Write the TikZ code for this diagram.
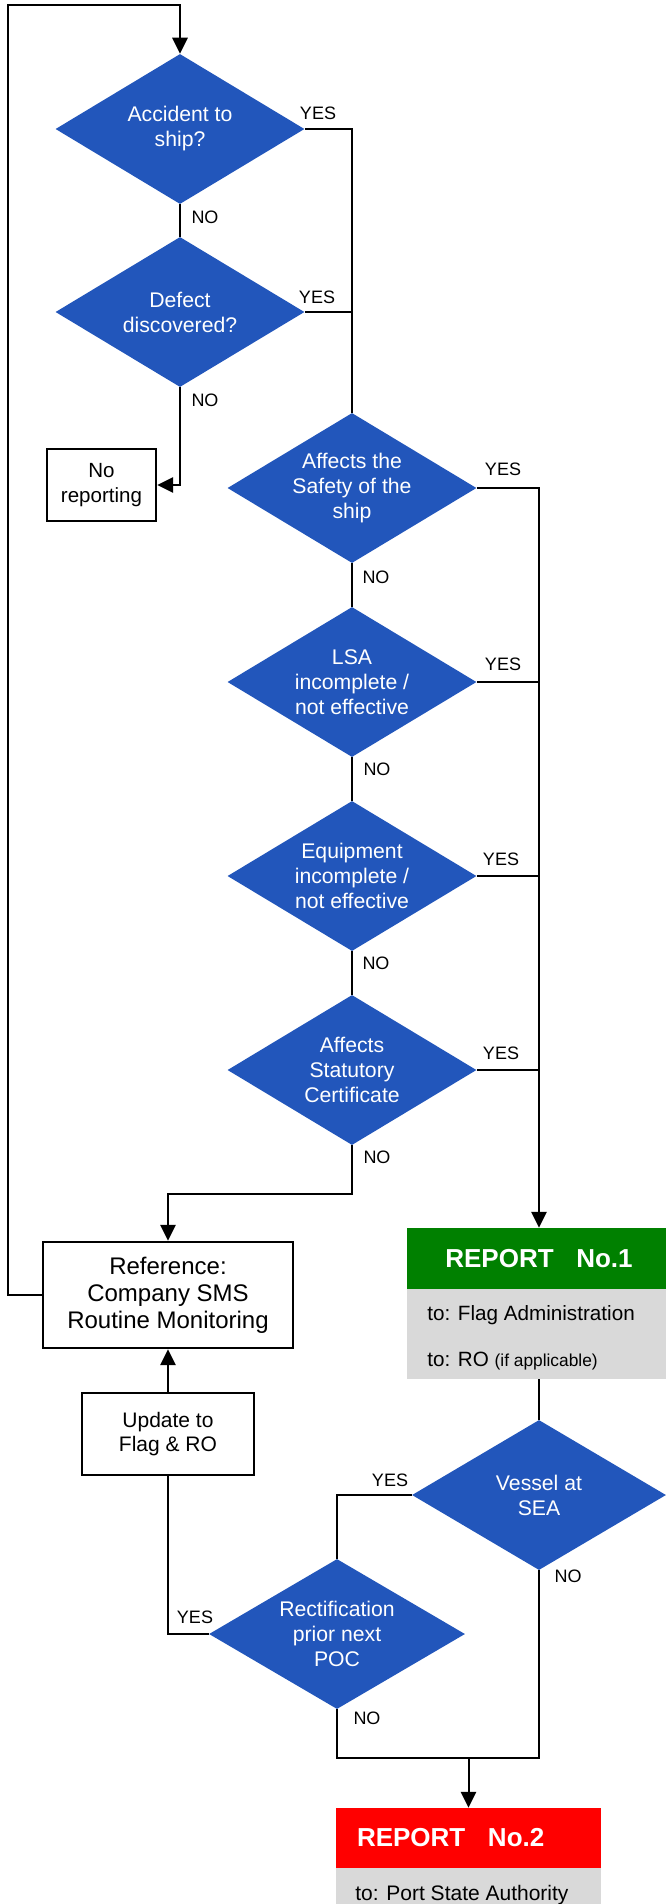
\documentclass[tikz,border=0pt]{standalone}
\usepackage{fontspec}
\setmainfont{Liberation Sans}
\usetikzlibrary{shapes.geometric,arrows.meta}
\definecolor{dblue}{RGB}{34,86,187}
\definecolor{rgreen}{RGB}{0,128,0}
\definecolor{rred}{RGB}{255,0,0}
\definecolor{lgray}{RGB}{217,217,217}
\begin{document}
\begin{tikzpicture}[x=0.75pt,y=-0.75pt,
 dia/.style={shape=diamond, fill=dblue, draw=none, inner sep=0pt, minimum width=186.75pt, minimum height=112.5pt},
 dtext/.style={text=white, align=center, font=\fontsize{15.9}{18.75}\selectfont, inner sep=0pt},
 box/.style={draw=black, line width=1.8pt, fill=white, align=center, inner sep=0pt},
 yn/.style={font=\fontsize{13.5}{16}\selectfont, inner sep=0pt},
 conn/.style={line width=1.5pt, draw=black},
 arr/.style={conn, -{Triangle[length=12pt,width=11.5pt]}},
 rhead/.style={minimum width=198.75pt, minimum height=45.75pt, inner sep=0pt, text=white, font=\fontsize{19.5}{22}\selectfont\bfseries},
 rbody/.style={fill=lgray, minimum width=198.75pt, inner sep=0pt},
 rtext/.style={anchor=base west, inner sep=0pt, font=\fontsize{15.5}{18}\selectfont},
]
\useasboundingbox (0,0) rectangle (665,1904);

% decision diamonds
\node[dia, label={[dtext]center:Accident to\\ship?}] (d1) at (180,129) {};
\node[dia, label={[dtext]center:Defect\\discovered?}] (d2) at (180,312) {};
\node[dia, label={[dtext]center:Affects the\\Safety of the\\ship}] (d3) at (352,488) {};
\node[dia, label={[dtext]center:LSA\\incomplete /\\not effective}] (d4) at (352,682) {};
\node[dia, label={[dtext]center:Equipment\\incomplete /\\not effective}] (d5) at (352,876) {};
\node[dia, label={[dtext]center:Affects\\Statutory\\Certificate}] (d6) at (352,1070) {};
\node[dia, minimum width=190.5pt, label={[dtext]center:Vessel at\\SEA}] (d7) at (539,1495) {};
\node[dia, minimum width=192pt, label={[dtext]center:Rectification\\prior next\\POC}] (d8) at (337,1634) {};

% boxes
\node[box, minimum width=81.75pt, minimum height=54pt, font=\fontsize{15.4}{18.75}\selectfont] (nrep) at (101.5,485) {No\\reporting};
\node[box, minimum width=187.5pt, minimum height=79.5pt, font=\fontsize{18}{20.25}\selectfont] (ref) at (168,1295) {Reference:\\Company SMS\\Routine Monitoring};
\node[box, minimum width=129pt, minimum height=61.5pt, font=\fontsize{15.75}{18}\selectfont] (upd) at (168,1434) {Update to\\Flag \& RO};

% report 1
\node[rhead, fill=rgreen] (r1head) at (539,1258.5) {REPORT\hspace{17pt}No.1};
\node[rbody, minimum height=67.5pt] (r1body) at (539,1334) {};
\node[rtext] (t1) at (427,1320) {to: Flag Administration};
\node[rtext] (t2) at (427,1366) {to: RO {\fontsize{13}{15}\selectfont (if applicable)}};

% report 2
\node[rhead, fill=rred, text width=167.25pt, inner xsep=15.75pt, align=left, minimum height=45pt] (r2head) at (468.5,1838) {REPORT\hspace{17pt}No.2};
\node[rbody, minimum height=27pt] (r2body) at (468.5,1886) {};
\node[rtext, font=\fontsize{15.75}{18}\selectfont] (t3) at (355,1900) {to: Port State Authority};

% YES / NO labels
\node[yn] (y1) at (318,113) {YES};
\node[yn] (n1) at (205,217) {NO};
\node[yn] (y2) at (317,297) {YES};
\node[yn] (n2) at (205,400) {NO};
\node[yn] (y3) at (503,469) {YES};
\node[yn] (n3) at (376,577) {NO};
\node[yn] (y4) at (503,664) {YES};
\node[yn] (n4) at (377,769) {NO};
\node[yn] (y5) at (501,859) {YES};
\node[yn] (n5) at (376,963) {NO};
\node[yn] (y6) at (501,1053) {YES};
\node[yn] (n6) at (377,1157) {NO};
\node[yn] (y7) at (390,1480) {YES};
\node[yn] (n7) at (568,1576) {NO};
\node[yn] (y8) at (195,1617) {YES};
\node[yn] (n8) at (367,1718) {NO};

% connectors
\coordinate (lp) at (8,5);
\draw[arr] (ref.west) -| (lp) -| (d1.north);
\draw[conn] (d1.south) -- (d2.north);
\draw[arr] (d2.south) |- (nrep.east);
\draw[conn] (d1.east) -| (d3.north);
\draw[conn] (d2.east) -- (d2.east -| d3.north);
\draw[conn] (d3.south) -- (d4.north);
\draw[conn] (d4.south) -- (d5.north);
\draw[conn] (d5.south) -- (d6.north);
\draw[arr] (d3.east) -| (r1head.north);
\draw[conn] (d4.east) -- (d4.east -| r1head.north);
\draw[conn] (d5.east) -- (d5.east -| r1head.north);
\draw[conn] (d6.east) -- (d6.east -| r1head.north);
\coordinate (j6) at (168,1194);
\draw[arr] (d6.south) |- (j6) -- (ref.north);
\draw[arr] (upd.north) -- (ref.south);
\draw[conn] (r1body.south) -- (d7.north);
\draw[conn] (d7.west) -| (d8.north);
\draw[conn] (d8.west) -| (upd.south);
\coordinate (mj) at (468.5,1758);
\draw[conn] (d8.south) |- (mj -| d7.south) -- (d7.south);
\draw[arr] (mj) -- (r2head.north);
\end{tikzpicture}
\end{document}
